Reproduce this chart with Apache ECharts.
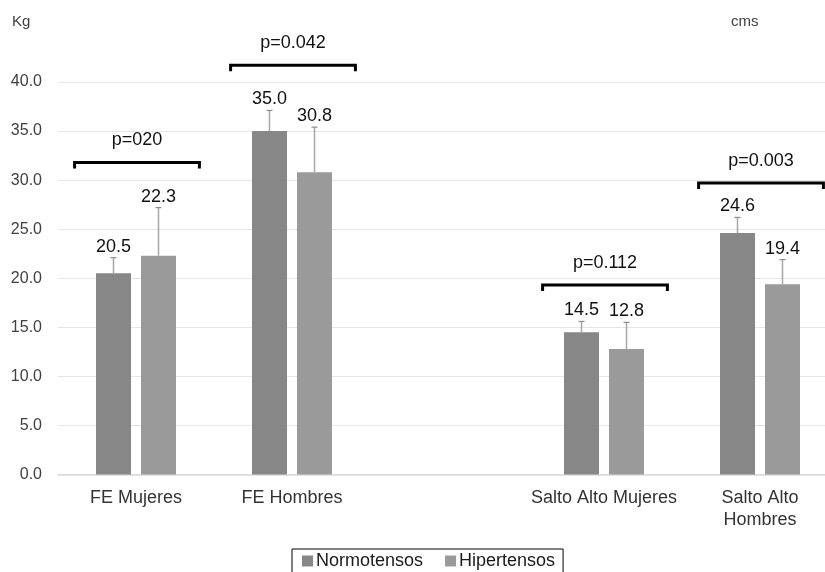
<!DOCTYPE html>
<html>
<head>
<meta charset="utf-8">
<script src="https://cdn.jsdelivr.net/npm/echarts@6/dist/echarts.min.js"></script>
<style>
html,body{margin:0;padding:0;background:#fff;overflow:hidden;width:825px;height:572px;}
#chart{width:838px;height:572px;}
</style>
</head>
<body>
<div id="chart"></div>
<script>
// ---- data ----
var categories = ['FE Mujeres', 'FE Hombres', '', 'Salto Alto Mujeres', 'Salto Alto\nHombres'];
var normotensos = [20.5, 35.0, null, 14.5, 24.6];
var hipertensos = [22.3, 30.8, null, 12.8, 19.4];
var normoErrTop = [22.1, 37.1, null, 15.6, 26.2];
var hiperErrTop = [27.2, 35.4, null, 15.5, 21.9];
var bracketCats = [0, 1, 3, 4];
var bracketLevels = [31.8, 41.7, 19.3, 29.7];
var pLabels = ['p=020', 'p=0.042', 'p=0.112', 'p=0.003'];
var yTicks = [0, 5, 10, 15, 20, 25, 30, 35, 40];

// ---- style constants ----
var FONT = '"Liberation Sans", Arial, Helvetica, sans-serif';
var BAR_W = 35, GAP_PX = 10;
var OFFSET = (BAR_W + GAP_PX) / 2;

var chart = echarts.init(document.getElementById('chart'), null, {renderer: 'canvas'});

function errData(vals, tops) {
  var out = [];
  for (var i = 0; i < vals.length; i++) {
    if (vals[i] == null) continue;
    out.push([i, vals[i], tops[i]]);
  }
  return out;
}

function errRender(sign) {
  return function (params, api) {
    var idx = api.value(0);
    var base = api.coord([idx, api.value(1)]);
    var top = api.coord([idx, api.value(2)]);
    var x = base[0] + sign * OFFSET;
    return {
      type: 'group',
      children: [
        {type: 'line', shape: {x1: x, y1: base[1], x2: x, y2: top[1]},
          style: {stroke: '#a6a6a6', lineWidth: 1.5}},
        {type: 'line', shape: {x1: x - 3, y1: top[1], x2: x + 3, y2: top[1]},
          style: {stroke: '#8c8c8c', lineWidth: 1.2}},
        {type: 'text', x: x, y: top[1] - 2,
          style: {text: api.value(1).toFixed(1), fill: '#111', font: '18px ' + FONT,
            textAlign: 'center', textVerticalAlign: 'bottom'}}
      ]
    };
  };
}

var bracketData = bracketCats.map(function (c, i) { return [c, bracketLevels[i], i]; });

var option = {
  backgroundColor: '#fff',
  animation: false,
  grid: {left: 58, right: 0, top: 82, bottom: 97.5, containLabel: false},
  legend: {
    top: 549,
    left: 292,
    data: ['Normotensos', 'Hipertensos'],
    icon: 'rect',
    itemWidth: 11,
    itemHeight: 11,
    itemGap: 22,
    borderColor: '#000',
    borderWidth: 1,
    padding: [3, 8, 20, 10],
    textStyle: {fontFamily: FONT, fontSize: 18, color: '#1a1a1a', padding: [0, 0, 0, -2]}
  },
  graphic: [
    {type: 'text', left: 12, top: 14, style: {text: 'Kg', font: '15px ' + FONT, fill: '#404040'}},
    {type: 'text', left: 731, top: 14, style: {text: 'cms', font: '15px ' + FONT, fill: '#404040'}}
  ],
  xAxis: {
    type: 'category',
    data: categories,
    axisTick: {show: false},
    axisLine: {lineStyle: {color: '#d9d9d9', width: 1.5}},
    axisLabel: {fontFamily: FONT, fontSize: 18, color: '#333', margin: 13, lineHeight: 22, interval: 0}
  },
  yAxis: {
    type: 'value',
    min: 0, max: 40, interval: 5,
    axisLine: {show: false},
    axisTick: {show: false},
    splitLine: {lineStyle: {color: '#e6e6e6', width: 1}},
    axisLabel: {fontFamily: FONT, fontSize: 16, color: '#404040', margin: 16,
      formatter: function (v) { return yTicks.indexOf(v) >= 0 ? v.toFixed(1) : ''; }}
  },
  series: [
    {name: 'Normotensos', type: 'bar', data: normotensos, barWidth: BAR_W,
      barGap: (GAP_PX / BAR_W * 100).toFixed(1) + '%',
      itemStyle: {color: '#878787'}},
    {name: 'Hipertensos', type: 'bar', data: hipertensos, barWidth: BAR_W,
      itemStyle: {color: '#9a9a9a'}},
    {type: 'custom', renderItem: errRender(-1), data: errData(normotensos, normoErrTop),
      encode: {x: 0, y: [1, 2]}, z: 5, silent: true},
    {type: 'custom', renderItem: errRender(1), data: errData(hipertensos, hiperErrTop),
      encode: {x: 0, y: [1, 2]}, z: 5, silent: true},
    {type: 'custom', clip: false, z: 6, silent: true,
      data: bracketData,
      encode: {x: 0, y: 1},
      renderItem: function (params, api) {
        var idx = api.value(0);
        var c = api.coord([idx, api.value(1)]);
        var hw = api.size([1, 0])[0] * 0.4;
        var cx = c[0] + 1, cy = c[1];
        return {
          type: 'group',
          children: [
            {type: 'polyline', shape: {points: [[cx - hw, cy + 6], [cx - hw, cy], [cx + hw, cy], [cx + hw, cy + 6]]},
              style: {stroke: '#000', lineWidth: 3, fill: null}},
            {type: 'text', x: cx, y: cy - 22,
              style: {text: pLabels[api.value(2)], fill: '#111', font: '18px ' + FONT,
                textAlign: 'center', textVerticalAlign: 'middle'}}
          ]
        };
      }}
  ]
};
chart.setOption(option);
</script>
</body>
</html>
